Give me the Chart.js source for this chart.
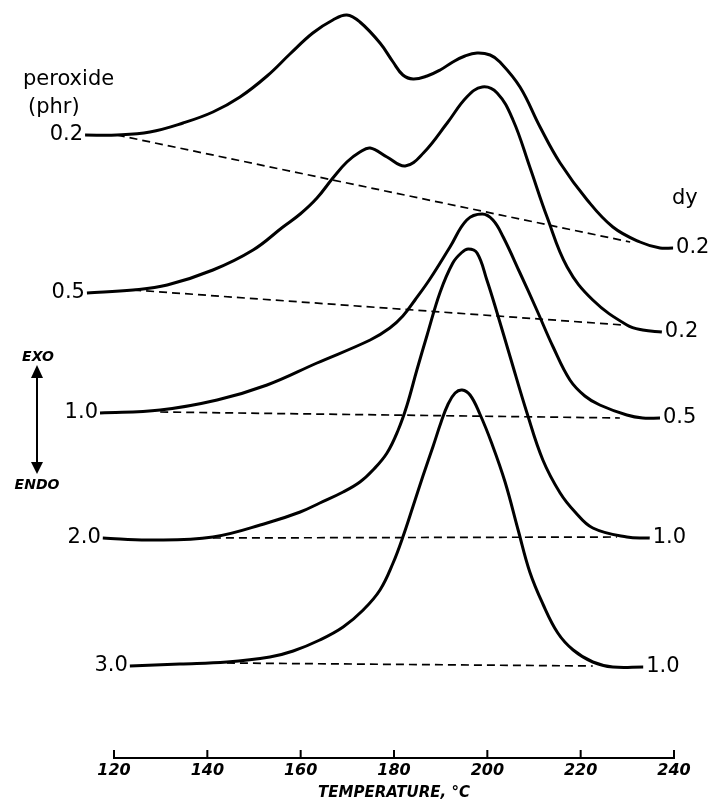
<!DOCTYPE html>
<html>
<head>
<meta charset="utf-8">
<title>DSC curves - peroxide level</title>
<script src="https://cdn.jsdelivr.net/npm/chart.js@4"></script>
<style>
  body { margin: 0; background: #fff; }
  #wrap { width: 712px; height: 803px; }
</style>
</head>
<body>
<div id="wrap"><canvas id="dscChart" width="712" height="803"></canvas></div>
<script>
// temperature (deg C) and trace height (arbitrary units, stacked)
const temp02 = [113.8, 120.6, 127.7, 134.8, 141.2, 147.0, 152.8, 157.7, 162.6, 166.9, 169.9, 172.7, 177.0, 179.8, 181.9, 184.1, 187.1, 189.9, 192.6, 195.2, 197.8, 200.6, 202.7, 207.0, 211.3, 215.6, 221.4, 226.9, 232.7, 237.0, 239.8];
const heat02 = [623, 623, 626, 635, 646, 661, 682, 704, 725, 738, 743, 736, 715, 696, 683, 679, 682, 688, 696, 702, 705, 703, 696, 671, 631, 595, 558, 531, 516, 510, 510];

const temp05 = [114.2, 124.1, 131.4, 141.2, 149.8, 156.2, 159.9, 163.5, 166.9, 169.9, 172.7, 174.9, 178.5, 182.4, 186.3, 191.4, 195.6, 198.9, 202.1, 205.5, 209.1, 212.8, 217.1, 222.6, 229.9, 233.3, 237.4];
const heat05 = [465, 468, 473, 488, 508, 531, 544, 560, 580, 596, 606, 610, 601, 592, 605, 635, 661, 671, 665, 638, 591, 541, 491, 458, 433, 428, 426];

const temp10 = [117.0, 129.9, 142.1, 152.8, 163.5, 174.9, 179.1, 181.9, 184.5, 187.7, 192.0, 195.6, 198.9, 201.2, 203.4, 207.0, 210.6, 214.1, 217.7, 220.9, 224.1, 229.9, 233.3, 237.0];
const heat10 = [345, 348, 358, 373, 395, 418, 430, 442, 458, 479, 511, 538, 544, 538, 521, 485, 448, 411, 378, 362, 353, 343, 340, 340];

const temp20 = [117.6, 127.7, 141.2, 152.8, 159.9, 164.1, 169.1, 172.7, 175.5, 178.5, 180.9, 182.8, 184.9, 187.1, 189.9, 192.6, 194.4, 195.9, 197.8, 199.9, 202.1, 204.9, 208.5, 211.9, 215.6, 218.8, 222.6, 229.9, 234.8];
const heat20 = [220, 218, 221, 235, 246, 255, 266, 276, 288, 305, 328, 353, 388, 423, 466, 495, 505, 509, 505, 478, 445, 401, 345, 298, 265, 246, 230, 221, 220];

const temp30 = [123.4, 134.1, 144.2, 153.4, 158.4, 164.1, 169.1, 173.4, 177.0, 179.8, 181.9, 184.1, 186.2, 188.4, 190.1, 191.6, 193.1, 194.6, 196.3, 198.4, 201.0, 203.8, 206.6, 209.1, 211.9, 215.1, 218.4, 222.6, 226.9, 233.4];
const heat30 = [92, 94, 96, 101, 107, 118, 131, 148, 168, 195, 221, 252, 282, 312, 336, 354, 365, 368, 363, 344, 314, 276, 228, 186, 154, 125, 108, 96, 91, 91];

// dashed baselines: start/end temperature and height
const baseTemp02 = [120.6, 230.6], baseHeat02 = [623, 516];
const baseTemp05 = [124.1, 229.1], baseHeat05 = [468, 433];
const baseTemp10 = [129.9, 228.4], baseHeat10 = [346, 340];
const baseTemp20 = [141.2, 227.8], baseHeat20 = [220, 221];
const baseTemp30 = [144.2, 222.6], baseHeat30 = [95, 92];

const peroxideLabels = ['0.2', '0.5', '1.0', '2.0', '3.0'];
const dyLabels = ['0.2', '0.2', '0.5', '1.0', '1.0'];
const tempTicks = [120, 140, 160, 180, 200, 220, 240];

const pts = (xs, ys) => xs.map((x, i) => ({ x: x, y: ys[i] }));

function curve(xs, ys) {
    return {
        data: pts(xs, ys),
        borderColor: '#000',
        borderWidth: 3,
        pointRadius: 0,
        tension: 0.4,
        clip: false
    };
}

function baseline(xs, ys) {
    return {
        data: pts(xs, ys),
        borderColor: '#000',
        borderWidth: 1.7,
        borderDash: [8, 5],
        pointRadius: 0,
        tension: 0,
        clip: false
    };
}

// labels, EXO/ENDO arrow and the upward tick marks on the temperature axis
const annotations = {
    id: 'annotations',
    afterDraw(chart) {
        const ctx = chart.ctx;
        const xScale = chart.scales.x;
        const axisY = chart.chartArea.bottom;
        ctx.save();
        ctx.strokeStyle = '#000';
        ctx.fillStyle = '#000';
        ctx.lineWidth = 2;
        tempTicks.forEach(t => {
            const px = xScale.getPixelForValue(t);
            ctx.beginPath();
            ctx.moveTo(px, axisY);
            ctx.lineTo(px, axisY - 8);
            ctx.stroke();
        });

        ctx.font = '21px "DejaVu Sans"';
        ctx.textBaseline = 'middle';
        for (let i = 0; i < 5; i++) {
            const pts = chart.getDatasetMeta(i).data;
            const first = pts[0], last = pts[pts.length - 1];
            ctx.textAlign = 'right';
            ctx.fillText(peroxideLabels[i], first.x - 2, first.y);
            ctx.textAlign = 'left';
            ctx.fillText(dyLabels[i], last.x + 3, last.y);
        }

        ctx.textBaseline = 'alphabetic';
        ctx.textAlign = 'left';
        ctx.fillText('peroxide', 23, 85);
        ctx.fillText('(phr)', 28, 113);
        ctx.fillText('dy', 672, 204);

        ctx.font = 'italic bold 14px "DejaVu Sans"';
        ctx.textAlign = 'center';
        ctx.textBaseline = 'middle';
        ctx.fillText('EXO', 38, 357);
        ctx.fillText('ENDO', 37, 485);

        ctx.lineWidth = 2;
        ctx.beginPath();
        ctx.moveTo(37, 372);
        ctx.lineTo(37, 466);
        ctx.stroke();
        ctx.beginPath();
        ctx.moveTo(37, 365);
        ctx.lineTo(31, 378);
        ctx.lineTo(43, 378);
        ctx.closePath();
        ctx.fill();
        ctx.beginPath();
        ctx.moveTo(37, 474);
        ctx.lineTo(31, 462);
        ctx.lineTo(43, 462);
        ctx.closePath();
        ctx.fill();
        ctx.restore();
    }
};

document.addEventListener('DOMContentLoaded', function () {
    Chart.defaults.font.family = '"DejaVu Sans"';
    Chart.defaults.color = '#000';

    const ctx = document.getElementById('dscChart').getContext('2d');
    new Chart(ctx, {
        type: 'line',
        data: {
            datasets: [
                curve(temp02, heat02),
                curve(temp05, heat05),
                curve(temp10, heat10),
                curve(temp20, heat20),
                curve(temp30, heat30),
                baseline(baseTemp02, baseHeat02),
                baseline(baseTemp05, baseHeat05),
                baseline(baseTemp10, baseHeat10),
                baseline(baseTemp20, baseHeat20),
                baseline(baseTemp30, baseHeat30)
            ]
        },
        options: {
            responsive: false,
            animation: false,
            devicePixelRatio: 1,
            layout: { padding: { left: 114, right: 38, top: 0, bottom: 0 } },
            plugins: {
                legend: { display: false },
                tooltip: { enabled: false }
            },
            scales: {
                x: {
                    type: 'linear',
                    min: 120,
                    max: 240,
                    afterFit: scale => { scale.height = 45; },
                    afterBuildTicks: scale => { scale.ticks = tempTicks.map(v => ({ value: v })); },
                    border: { display: true, color: '#000', width: 2 },
                    grid: { drawOnChartArea: false, drawTicks: false },
                    ticks: {
                        padding: 3,
                        maxRotation: 0,
                        font: { size: 16, style: 'italic', weight: 'bold' }
                    },
                    title: {
                        display: true,
                        text: 'TEMPERATURE, °C',
                        font: { size: 15, style: 'italic', weight: 'bold' },
                        padding: { top: 0, bottom: 1 }
                    }
                },
                y: {
                    display: false,
                    min: 0,
                    max: 758
                }
            }
        },
        plugins: [annotations]
    });
});
</script>
</body>
</html>
